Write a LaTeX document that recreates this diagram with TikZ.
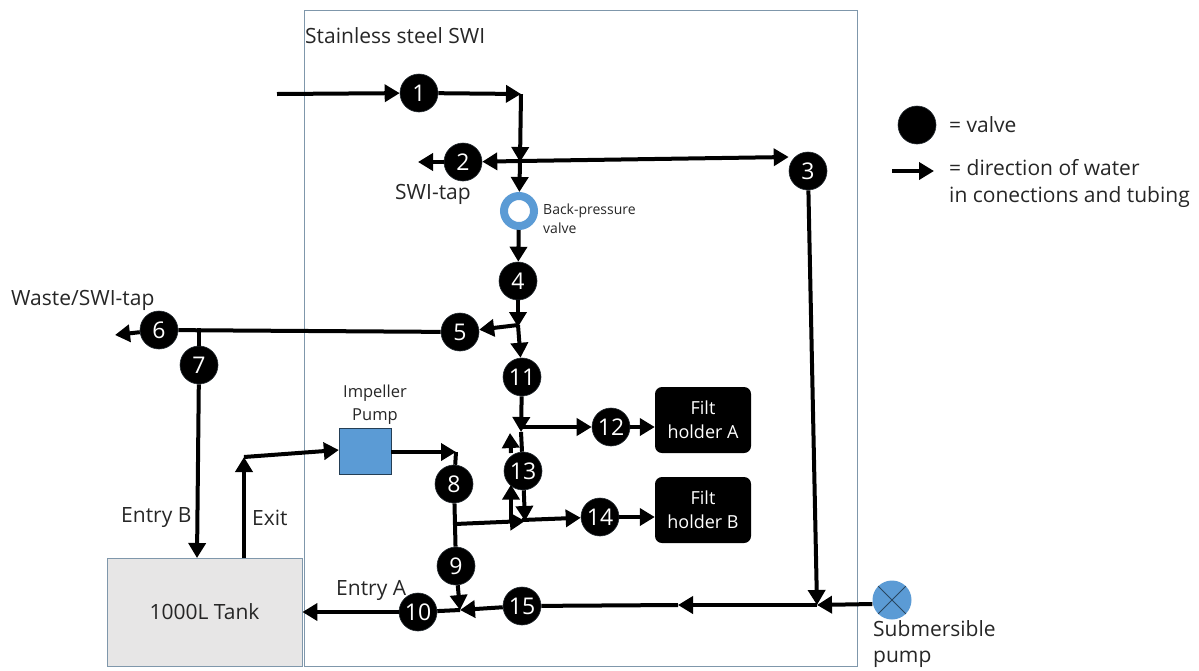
\documentclass[tikz,border=0pt]{standalone}
\usepackage{fontspec}
\setmainfont{Open Sans}
\usetikzlibrary{arrows.meta}
\definecolor{inkc}{HTML}{262626}
\definecolor{frame}{HTML}{7F97AB}
\definecolor{bluec}{HTML}{5B9BD5}
\definecolor{tankc}{HTML}{E7E6E6}
\tikzset{
  x=1pt,y=-1pt,
  valve/.style={circle,fill=black,draw=black!70!frame,line width=.6pt,minimum size=38pt,inner sep=0pt,text=white,font=\fontsize{23}{25}\selectfont},
  pipe/.style={line width=4pt,draw=black},
  flow/.style={pipe,-{Triangle[length=15pt,width=17pt]},shorten >=0pt},
  lab/.style={text=inkc,font=\fontsize{21}{26}\selectfont,inner sep=0pt},
  smalllab/.style={text=inkc,font=\fontsize{14}{19}\selectfont,inner sep=0pt,align=left},
  holder/.style={rounded corners=7pt,fill=black,text=white,minimum width=96pt,minimum height=66pt,align=center,inner sep=0pt,font=\fontsize{18}{24}\selectfont},
}
\begin{document}
\begin{tikzpicture}
\useasboundingbox (0,0) rectangle (1199,670);
% frames
\node[draw=frame,line width=.8pt,minimum width=553pt,minimum height=656pt,inner sep=0pt] (swi) at (580.5,338.5) {};
\node[draw=frame,fill=tankc,line width=.8pt,minimum width=195pt,minimum height=108pt,inner sep=0pt,text=inkc,font=\fontsize{21}{26}\selectfont] (tank) at (204.5,612) {1000L Tank};
% valves
\node[valve] (v1) at (419,93) {1};
\node[valve] (v2) at (463,162) {2};
\node[valve] (v3) at (808,171) {3};
\node[valve] (v4) at (518,281) {4};
\node[valve] (v5) at (460,332) {5};
\node[valve] (v6) at (159,330) {6};
\node[valve] (v7) at (199,365) {7};
\node[valve] (v8) at (454,484) {8};
\node[valve] (v9) at (456,566) {9};
\node[valve] (v10) at (418,612) {10};
\node[valve] (v11) at (522,377) {11};
\node[valve] (v12) at (611,427) {12};
\node[valve] (v13) at (523,471) {13};
\node[valve] (v14) at (600,517) {14};
\node[valve] (v15) at (522,606) {15};
\node[circle,draw=bluec,line width=8pt,fill=white,minimum size=30pt,inner sep=0pt] (bp) at (519,211) {};
\node[draw=black!60!bluec,fill=bluec,line width=.4pt,minimum width=52pt,minimum height=46pt,inner sep=0pt] (pump) at (365,451) {};
\node[circle,fill=bluec,minimum size=39pt,inner sep=0pt] (sub) at (892,600) {};
\draw[black!55!bluec,line width=.8pt] (sub.45) -- (sub.225) (sub.135) -- (sub.315);
\node[holder] (fa) at (703,420) {Filt\\holder A};
\node[holder] (fb) at (703,510) {Filt\\holder B};
\node[valve] (lv) at (917,125) {};
% junctions
\coordinate (inlet) at (277,94);
\coordinate (j1) at (521,94);
\coordinate (j2) at (520,161);
\coordinate (tapend) at (418,162);
\coordinate (j3) at (518,325);
\coordinate (wasteend) at (115,335);
\coordinate (t7) at (199,328);
\coordinate (e7) at (197,558);
\coordinate (exitb) at (244,558);
\coordinate (exitt) at (244,457);
\coordinate (p8) at (456,452);
\coordinate (j8) at (455,524);
\coordinate (j13) at (525,521);
\coordinate (j14) at (522,520);
\coordinate (j12) at (523,427);
\coordinate (j11) at (521,432);
\coordinate (u1) at (511,521);
\coordinate (u2) at (511,453);
\coordinate (u2t) at (510,433);
\coordinate (j15) at (817,605);
\coordinate (m15) at (678,605);
\coordinate (j10) at (460,610);
\coordinate (le1) at (892,171);
\coordinate (le2) at (934,171);
% connectors
\draw[flow] (inlet) -- (v1);
\draw[flow] (v1) -- (j1);
\draw[flow,shorten >=-1pt] (j1) -- (j2);
\draw[flow] (j2) -- (bp);
\draw[flow] (j2) -- (v2);
\draw[flow] (v2) -- (tapend);
\draw[flow] (j2) -- (v3.west|-0,157);
\draw[flow] (bp) -- (v4);
\draw[flow,shorten >=-2pt] (v4) -- (j3);
\draw[flow] (j3) -- (v5);
\draw[flow] (j3) -- (v11);
\draw[pipe] (v5) -- (v6);
\draw[flow] (v6) -- (wasteend);
\draw[pipe] (t7) -- (v7);
\draw[flow] (v7) -- (e7);
\draw[flow] (exitb) -- (exitt);
\draw[flow] (exitt) -- (pump.west|-0,450);
\draw[flow] (pump.east|-0,452) -- (p8);
\draw[pipe] (p8) -- (v8);
\draw[pipe] (v8) -- (v9);
\draw[flow] (j8) -- (j13);
\draw[flow] (j14) -- (v14);
\draw[flow] (v14) -- (fb.west|-v14);
\draw[flow] (v11) -- (j11);
\draw[flow] (j12) -- (v12);
\draw[flow] (v12) -- (fa.west|-v12);
\draw[pipe] (j11) -- (v13);
\draw[flow] (v13) -- (j13);
\draw[flow] (u1) -- (v13.south west-|u1);
\draw[flow] (u2) -- (u2t);
\draw[flow] (v3) -- (j15);
\draw[flow] (sub.west|-0,604) -- (j15);
\draw[flow] (j15) -- (m15);
\draw[pipe] (m15) -- (v15);
\draw[flow] (v15) -- (j10);
\draw[flow] (v9) -- (j10);
\draw[pipe] (j10) -- (v10);
\draw[flow] (v10) -- (tank.east|-v10);
\draw[flow] (le1) -- (le2);
% labels
\node[lab,anchor=west] (t1) at (305,36) {Stainless steel SWI};
\node[lab,anchor=west] (t2) at (395,194) {SWI-tap};
\node[smalllab,anchor=north west] (t3) at (543,204) {Back-pressure\\valve};
\node[lab,anchor=west] (t4) at (11,300) {Waste/SWI-tap};
\node[smalllab,anchor=north,align=center,font=\fontsize{16.5}{23}\selectfont] (t5) at (375,385) {Impeller\\Pump};
\node[lab,anchor=west] (t6) at (121,518) {Entry B};
\node[lab,anchor=west] (t7l) at (252,518) {Exit};
\node[lab,anchor=west] (t8) at (336,590) {Entry A};
\node[lab,anchor=north west,align=left,font=\fontsize{21}{26}\selectfont] (t9) at (873,620) {Submersible\\pump};
\node[lab,anchor=west] (t10) at (949,125) {= valve};
\node[lab,anchor=west] (t11) at (949,168) {= direction of water};
\node[lab,anchor=west] (t12) at (949,197) {in conections and tubing};
\end{tikzpicture}
\end{document}
